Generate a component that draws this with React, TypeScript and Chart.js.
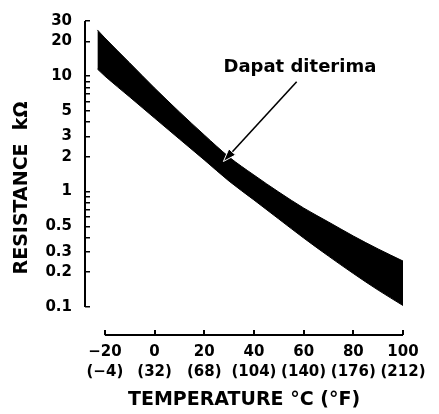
import { useEffect, useRef } from 'react';
import { Chart, registerables } from 'chart.js';

Chart.register(...registerables);

// Temperature (°C) sample points along the acceptable band
const temperatures = [-23, -20, -10, 0, 10, 20, 30, 40, 50, 60, 70, 80, 90, 100];
// Upper edge of the band (kΩ)
const upperResistance = [25.1, 21.4, 13.0, 7.88, 4.89, 3.09, 1.99, 1.39, 0.99, 0.72, 0.545, 0.412, 0.318, 0.25];
// Lower edge of the band (kΩ)
const lowerResistance = [11.5, 10.0, 6.59, 4.33, 2.85, 1.88, 1.23, 0.845, 0.578, 0.396, 0.276, 0.195, 0.14, 0.103];

const xTickCelsius = [-20, 0, 20, 40, 60, 80, 100];
const xTickFahrenheit = ['(\u22124)', '(32)', '(68)', '(104)', '(140)', '(176)', '(212)'];
const yTickMarks = [30, 20, 10, 9, 8, 7, 6, 5, 4, 3, 2, 1, 0.9, 0.8, 0.7, 0.6, 0.5, 0.4, 0.3, 0.2, 0.1];
const yTickLabels = [30, 20, 10, 5, 3, 2, 1, 0.5, 0.3, 0.2, 0.1];

const xAxisTitle = 'TEMPERATURE \u00B0C (\u00B0F)';
const yAxisTitle = 'RESISTANCE  k\u03A9';

const annotationText = 'Dapat diterima';
const annotationTextPoint = { x: 58.5, y: 11.8 };
const arrowFromPoint = { x: 57.2, y: 8.94 };
const arrowToPoint = { x: 27.7, y: 1.82 };

const FONT = 'DejaVu Sans';

const axesAndAnnotation = {
  id: 'axesAndAnnotation',
  afterDatasetsDraw(chart: any) {
    const { ctx, chartArea } = chart;
    const xs = chart.scales.x;
    const ys = chart.scales.y;
    ctx.save();
    ctx.strokeStyle = '#000';
    ctx.lineWidth = 2;
    ctx.lineCap = 'butt';
    // y axis line
    ctx.beginPath();
    ctx.moveTo(chartArea.left, ys.getPixelForValue(yTickMarks[0]));
    ctx.lineTo(chartArea.left, ys.getPixelForValue(yTickMarks[yTickMarks.length - 1]));
    ctx.stroke();
    // x axis line
    ctx.beginPath();
    ctx.moveTo(xs.getPixelForValue(xTickCelsius[0]), chartArea.bottom);
    ctx.lineTo(xs.getPixelForValue(xTickCelsius[xTickCelsius.length - 1]), chartArea.bottom);
    ctx.stroke();

    // annotation text
    ctx.fillStyle = '#000';
    ctx.font = `bold 18px "${FONT}"`;
    ctx.textAlign = 'center';
    ctx.textBaseline = 'middle';
    ctx.fillText(
      annotationText,
      xs.getPixelForValue(annotationTextPoint.x),
      ys.getPixelForValue(annotationTextPoint.y)
    );

    // arrow
    const x1 = xs.getPixelForValue(arrowFromPoint.x);
    const y1 = ys.getPixelForValue(arrowFromPoint.y);
    const x2 = xs.getPixelForValue(arrowToPoint.x);
    const y2 = ys.getPixelForValue(arrowToPoint.y);
    const ang = Math.atan2(y2 - y1, x2 - x1);
    const headLen = 13;
    const headW = 4.5;
    const bx = x2 - headLen * Math.cos(ang);
    const by = y2 - headLen * Math.sin(ang);
    ctx.lineWidth = 1.6;
    ctx.beginPath();
    ctx.moveTo(x1, y1);
    ctx.lineTo(bx, by);
    ctx.stroke();
    ctx.beginPath();
    ctx.moveTo(x2, y2);
    ctx.lineTo(bx + headW * Math.sin(ang), by - headW * Math.cos(ang));
    ctx.lineTo(bx - headW * Math.sin(ang), by + headW * Math.cos(ang));
    ctx.closePath();
    ctx.fillStyle = '#000';
    ctx.fill();
    ctx.strokeStyle = '#fff';
    ctx.lineWidth = 1;
    ctx.stroke();
    ctx.restore();
  },
};

export default function App() {
  const canvasRef = useRef<HTMLCanvasElement | null>(null);

  useEffect(() => {
    if (!canvasRef.current) return;
    const chart = new Chart(canvasRef.current, {
      type: 'line',
      data: {
        datasets: [
          {
            label: 'upper',
            data: temperatures.map((t, i) => ({ x: t, y: upperResistance[i] })),
            borderColor: '#000',
            borderWidth: 1,
            pointRadius: 0,
            cubicInterpolationMode: 'monotone',
            fill: false,
          },
          {
            label: 'lower',
            data: temperatures.map((t, i) => ({ x: t, y: lowerResistance[i] })),
            borderColor: '#000',
            borderWidth: 1,
            pointRadius: 0,
            cubicInterpolationMode: 'monotone',
            fill: '-1',
            backgroundColor: '#000',
          },
        ],
      },
      options: {
        animation: false,
        responsive: true,
        maintainAspectRatio: false,
        layout: { padding: { top: 21, right: 36, left: 0, bottom: 0 } },
        plugins: {
          legend: { display: false },
          tooltip: { enabled: false },
        },
        scales: {
          x: {
            type: 'linear',
            min: -28,
            max: 100,
            border: { display: false },
            grid: {
              drawOnChartArea: false,
              drawTicks: true,
              tickLength: -5,
              color: '#000',
              lineWidth: 2,
            },
            afterBuildTicks: (scale: any) => {
              scale.ticks = xTickCelsius.map((v) => ({ value: v }));
            },
            afterFit: (scale: any) => {
              scale.height = 79;
            },
            ticks: {
              autoSkip: false,
              maxRotation: 0,
              minRotation: 0,
              padding: 12,
              color: '#000',
              font: { family: FONT, weight: 'bold', size: 15, lineHeight: 1.333 },
              callback: (value: any, index: number) => {
                const c = Number(value) < 0 ? '\u2212' + Math.abs(Number(value)) : String(value);
                return [c, xTickFahrenheit[index]];
              },
            },
            title: {
              display: true,
              text: xAxisTitle,
              color: '#000',
              font: { family: FONT, weight: 'bold', size: 19 },
              padding: { top: 4, bottom: 3 },
            },
          },
          y: {
            type: 'logarithmic',
            min: 0.0572,
            max: 30,
            border: { display: false },
            grid: {
              drawOnChartArea: false,
              drawTicks: true,
              tickLength: -5,
              color: '#000',
              lineWidth: 1.5,
            },
            afterBuildTicks: (scale: any) => {
              scale.ticks = yTickMarks.map((v) => ({ value: v }));
            },
            afterFit: (scale: any) => {
              scale.width = 85;
              scale.paddingTop = 9;
              scale.paddingBottom = 9;
            },
            ticks: {
              autoSkip: false,
              padding: 18,
              color: '#000',
              font: { family: FONT, weight: 'bold', size: 15 },
              callback: (value: any) => {
                const v = Number(value);
                return yTickLabels.some((l) => Math.abs(l - v) < 1e-9) ? String(v) : '';
              },
            },
            title: {
              display: true,
              text: yAxisTitle + '   ',
              color: '#000',
              font: { family: FONT, weight: 'bold', size: 19 },
              padding: { top: 11, bottom: 0 },
            },
          },
        },
      } as any,
      plugins: [axesAndAnnotation],
    });
    return () => chart.destroy();
  }, []);

  return (
    <div style={{ position: 'absolute', left: 0, top: 0, width: 439, height: 414, background: '#fff' }}>
      <canvas ref={canvasRef} />
    </div>
  );
}
